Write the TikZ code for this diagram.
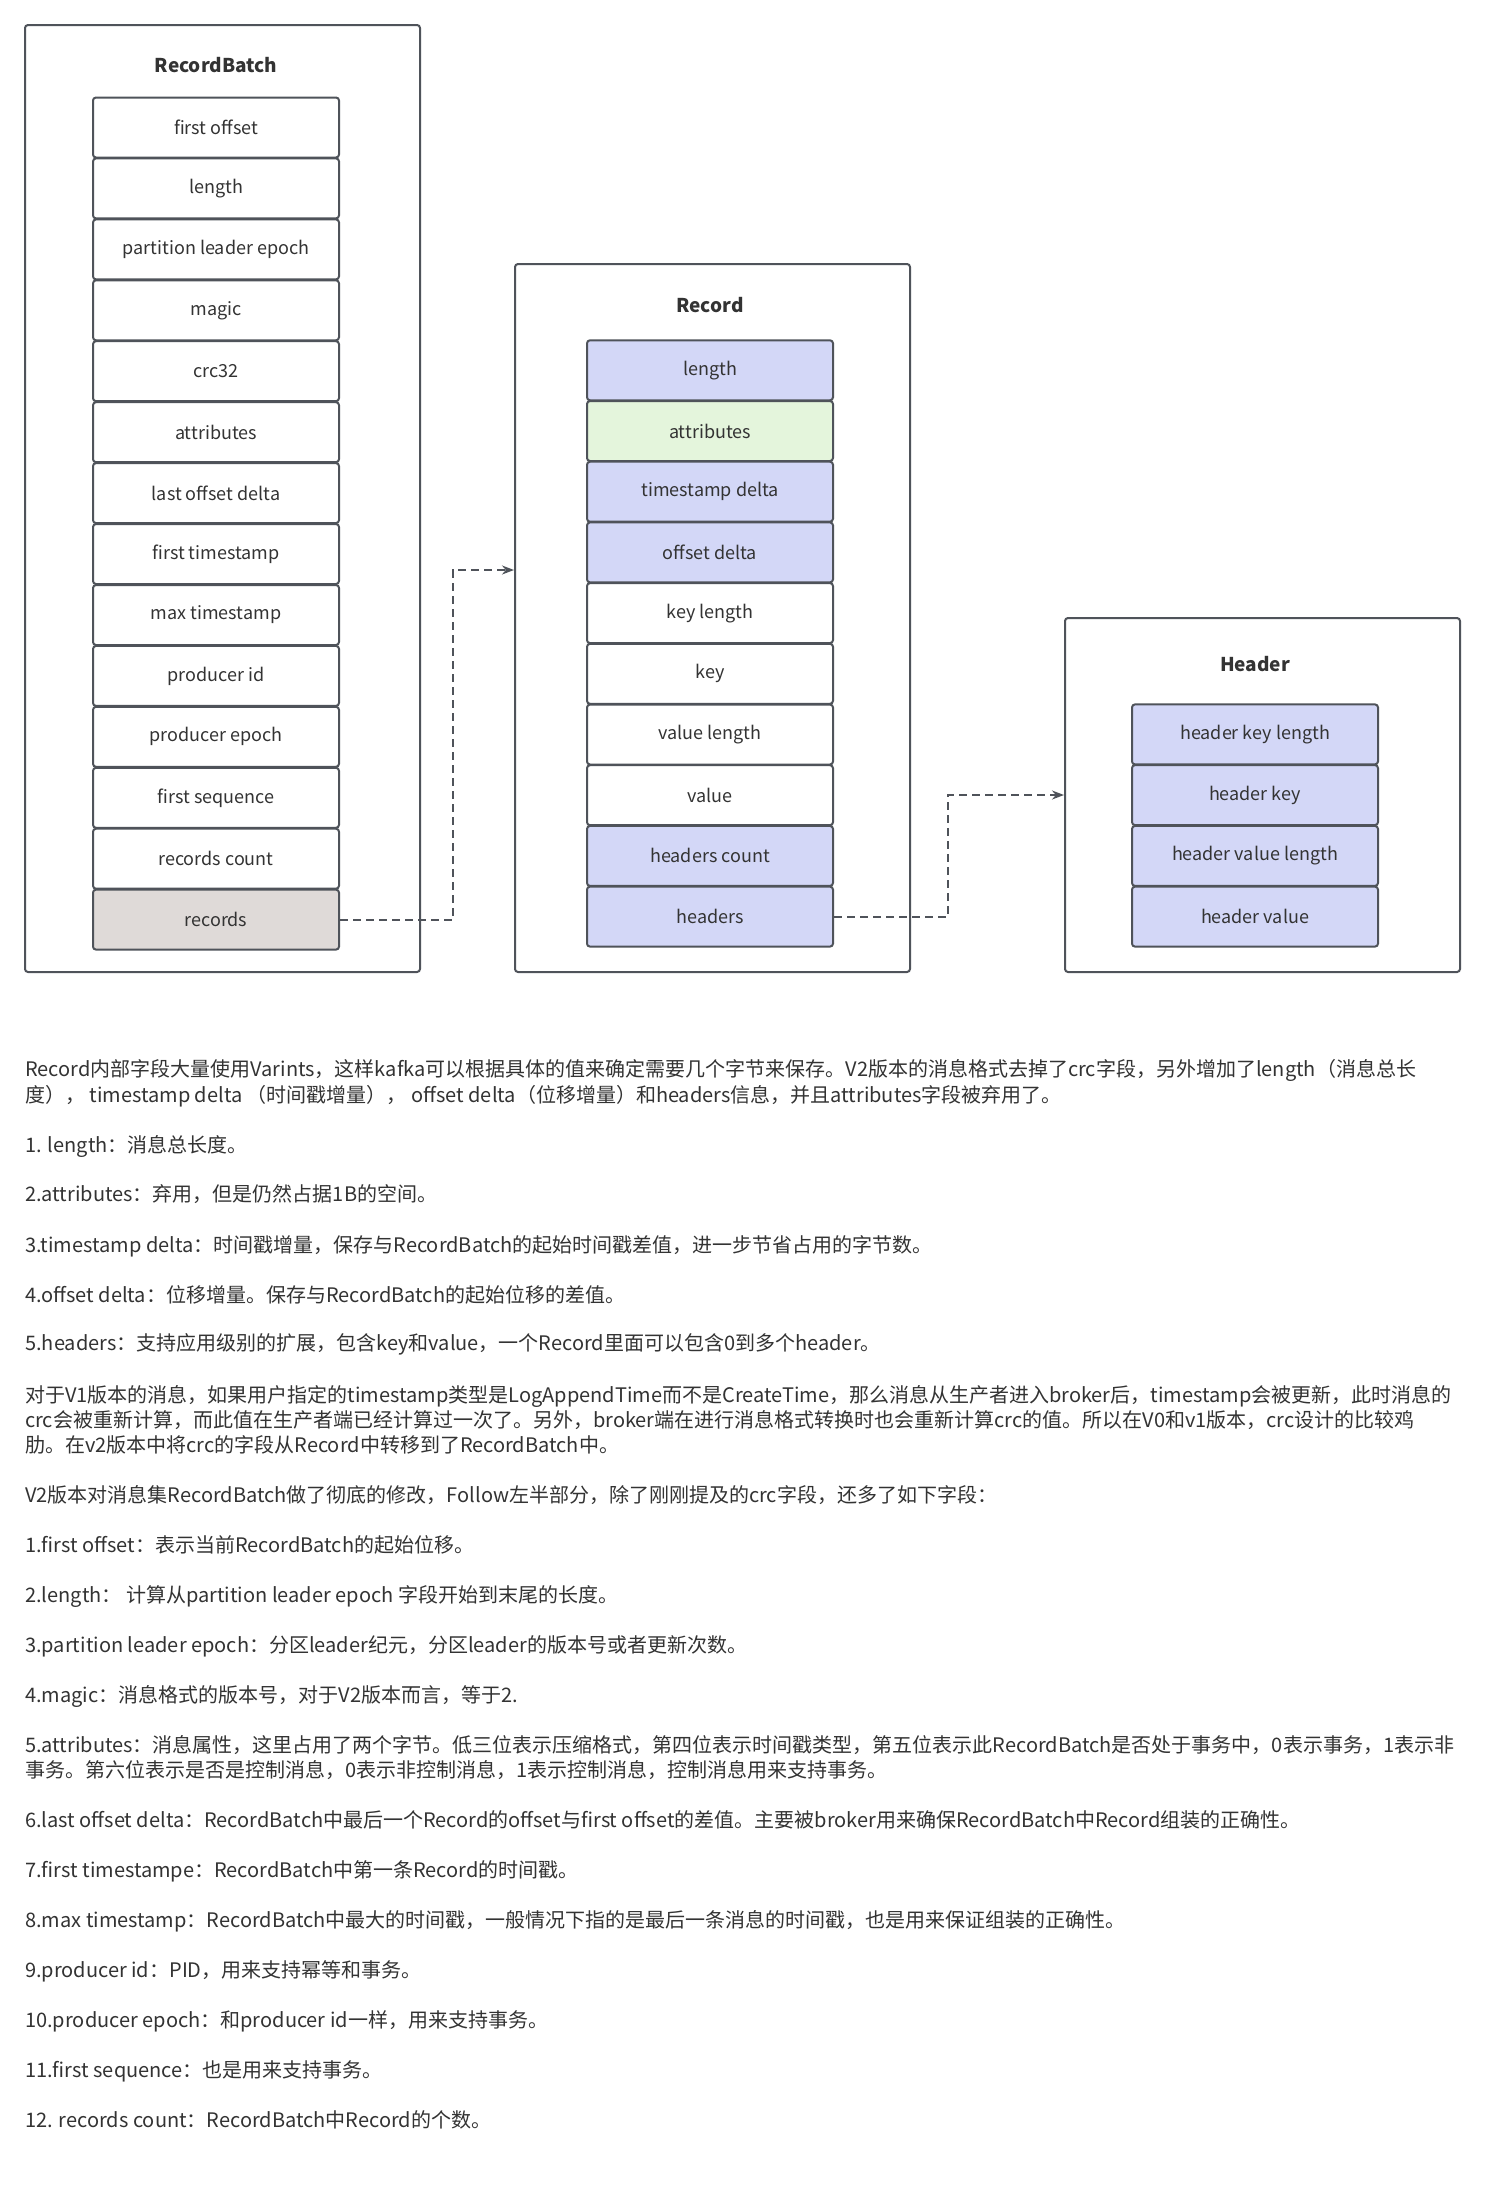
\documentclass[tikz,border=0pt]{standalone}
\usepackage{fontspec}
\setmainfont{Noto Sans CJK SC}
\usetikzlibrary{arrows.meta}
\definecolor{edge}{HTML}{4F535A}
\definecolor{txt}{HTML}{333333}
\definecolor{bluef}{HTML}{D3D7F7}
\definecolor{greenf}{HTML}{E4F5DC}
\definecolor{grayf}{HTML}{DFDAD8}
\begin{document}
\begin{tikzpicture}[x=1pt,y=-1pt,
  outer/.style={draw=edge,line width=2pt,rounded corners=3pt,fill=white,minimum width=395pt,inner sep=0pt},
  field/.style={draw=edge,line width=2pt,rounded corners=3pt,minimum width=246pt,minimum height=60pt,inner sep=0pt,text=txt,font=\fontsize{18}{20}\selectfont},
  wf/.style={field,fill=white},
  bf/.style={field,fill=bluef},
  gf/.style={field,fill=greenf},
  rf/.style={field,fill=grayf},
  ttl/.style={text=txt,font=\fontsize{19}{21}\selectfont\bfseries,inner sep=0pt},
  conn/.style={draw=edge,line width=2pt,dash pattern=on 8pt off 5pt,-{Stealth[length=12pt,width=9pt]}},
  para/.style={anchor=base west,inner sep=0pt,text=txt,font=\fontsize{20}{25}\selectfont}]
\useasboundingbox (0,0) rectangle (1485,2196);
\fill[white] (0,0) rectangle (1485,2196);
% outer boxes
\node[outer,minimum height=947pt] (rb) at (222.5,498.5) {};
\node[outer,minimum height=708pt] (rec) at (712.5,618) {};
\node[outer,minimum height=354pt] (hd) at (1262.5,795) {};
\node[ttl] (rbt) at (216,65) {RecordBatch};
\node[ttl] (rect) at (710,305) {Record};
\node[ttl] (hdt) at (1255,664) {Header};
% RecordBatch fields
\node[wf] (b1) at (216,127.5) {first offset};
\node[wf] (b2) at (216,188.4) {length};
\node[wf] (b3) at (216,249.4) {partition leader epoch};
\node[wf] (b4) at (216,310.3) {magic};
\node[wf] (b5) at (216,371.2) {crc32};
\node[wf] (b6) at (216,432.2) {attributes};
\node[wf] (b7) at (216,493.1) {last offset delta};
\node[wf] (b8) at (216,554.0) {first timestamp};
\node[wf] (b9) at (216,615.0) {max timestamp};
\node[wf] (b10) at (216,675.9) {producer id};
\node[wf] (b11) at (216,736.8) {producer epoch};
\node[wf] (b12) at (216,797.8) {first sequence};
\node[wf] (b13) at (216,858.7) {records count};
\node[rf] (b14) at (216,919.6) {records};
% Record fields
\node[bf] (r1) at (710,370.3) {length};
\node[gf] (r2) at (710,431.0) {attributes};
\node[bf] (r3) at (710,491.7) {timestamp delta};
\node[bf] (r4) at (710,552.4) {offset delta};
\node[wf] (r5) at (710,613.1) {key length};
\node[wf] (r6) at (710,673.8) {key};
\node[wf] (r7) at (710,734.5) {value length};
\node[wf] (r8) at (710,795.2) {value};
\node[bf] (r9) at (710,855.9) {headers count};
\node[bf] (r10) at (710,916.6) {headers};
% Header fields
\node[bf] (h1) at (1255,734.4) {header key length};
\node[bf] (h2) at (1255,795.1) {header key};
\node[bf] (h3) at (1255,855.9) {header value length};
\node[bf] (h4) at (1255,916.6) {header value};
% connectors
\coordinate (e1) at (453,570);
\coordinate (e2) at (948,795);
\draw[conn] (b14.east) -| (e1) -- (rec.west |- e1);
\draw[conn] (r10.east) -| (e2) -- (hd.west |- e2);
% text
\node[para] (p1a) at (25,1076) {Record内部字段大量使用Varints，这样kafka可以根据具体的值来确定需要几个字节来保存。V2版本的消息格式去掉了crc字段，另外增加了length（消息总长};
\node[para] (p1b) at (25,1102) {度）， timestamp delta （时间戳增量）， offset delta（位移增量）和headers信息，并且attributes字段被弃用了。};
\node[para] (p2) at (25,1152) {1. length：消息总长度。};
\node[para] (p3) at (25,1201) {2.attributes：弃用，但是仍然占据1B的空间。};
\node[para] (p4) at (25,1252) {3.timestamp delta：时间戳增量，保存与RecordBatch的起始时间戳差值，进一步节省占用的字节数。};
\node[para] (p5) at (25,1302) {4.offset delta：位移增量。保存与RecordBatch的起始位移的差值。};
\node[para] (p6) at (25,1350) {5.headers：支持应用级别的扩展，包含key和value，一个Record里面可以包含0到多个header。};
\node[para] (p7a) at (25,1402) {对于V1版本的消息，如果用户指定的timestamp类型是LogAppendTime而不是CreateTime，那么消息从生产者进入broker后，timestamp会被更新，此时消息的};
\node[para] (p7b) at (25,1427) {crc会被重新计算，而此值在生产者端已经计算过一次了。另外，broker端在进行消息格式转换时也会重新计算crc的值。所以在V0和v1版本，crc设计的比较鸡};
\node[para] (p7c) at (25,1452) {肋。在v2版本中将crc的字段从Record中转移到了RecordBatch中。};
\node[para] (p8) at (25,1502) {V2版本对消息集RecordBatch做了彻底的修改，Follow左半部分，除了刚刚提及的crc字段，还多了如下字段：};
\node[para] (p9) at (25,1552) {1.first offset：表示当前RecordBatch的起始位移。};
\node[para] (p10) at (25,1602) {2.length： 计算从partition leader epoch 字段开始到末尾的长度。};
\node[para] (p11) at (25,1652) {3.partition leader epoch：分区leader纪元，分区leader的版本号或者更新次数。};
\node[para] (p12) at (25,1702) {4.magic：消息格式的版本号，对于V2版本而言，等于2.};
\node[para] (p13a) at (25,1752) {5.attributes：消息属性，这里占用了两个字节。低三位表示压缩格式，第四位表示时间戳类型，第五位表示此RecordBatch是否处于事务中，0表示事务，1表示非};
\node[para] (p13b) at (25,1777) {事务。第六位表示是否是控制消息，0表示非控制消息，1表示控制消息，控制消息用来支持事务。};
\node[para] (p14) at (25,1827) {6.last offset delta：RecordBatch中最后一个Record的offset与first offset的差值。主要被broker用来确保RecordBatch中Record组装的正确性。};
\node[para] (p15) at (25,1877) {7.first timestampe：RecordBatch中第一条Record的时间戳。};
\node[para] (p16) at (25,1927) {8.max timestamp：RecordBatch中最大的时间戳，一般情况下指的是最后一条消息的时间戳，也是用来保证组装的正确性。};
\node[para] (p17) at (25,1977) {9.producer id：PID，用来支持幂等和事务。};
\node[para] (p18) at (25,2027) {10.producer epoch：和producer id一样，用来支持事务。};
\node[para] (p19) at (25,2077) {11.first sequence：也是用来支持事务。};
\node[para] (p20) at (25,2127) {12. records count：RecordBatch中Record的个数。};
\end{tikzpicture}
\end{document}
